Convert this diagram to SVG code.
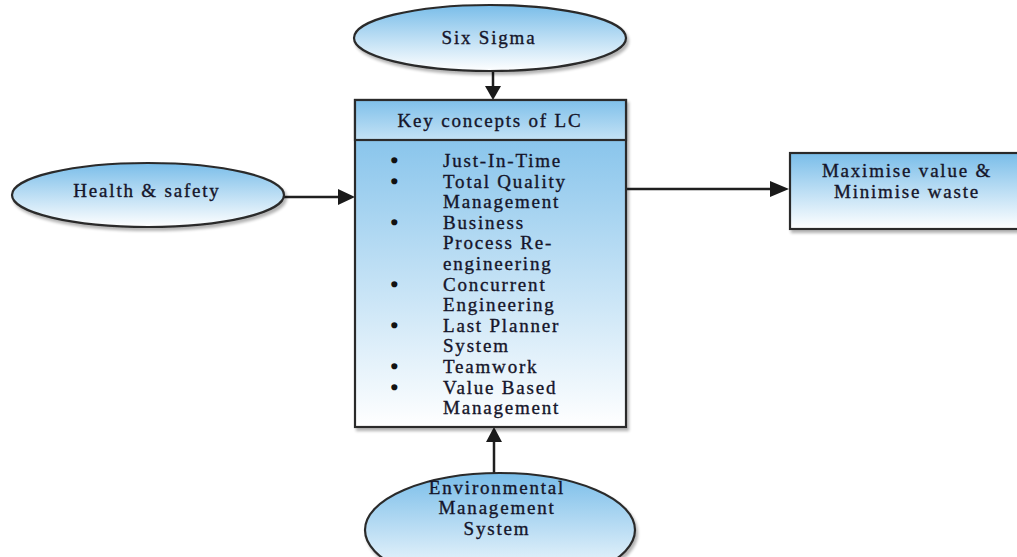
<svg xmlns="http://www.w3.org/2000/svg" width="1017" height="557" viewBox="0 0 1017 557">
<defs>
<linearGradient id="g" x1="0" y1="0" x2="0" y2="1">
<stop offset="0" stop-color="#79bde9"/>
<stop offset="1" stop-color="#ffffff"/>
</linearGradient>
<linearGradient id="gh" x1="0" y1="0" x2="0" y2="1">
<stop offset="0" stop-color="#7fc0ea"/>
<stop offset="1" stop-color="#c4e2f5"/>
</linearGradient>
<filter id="sh" x="-10%" y="-10%" width="125%" height="130%">
<feGaussianBlur in="SourceAlpha" stdDeviation="1.5"/>
<feOffset dx="2" dy="3"/>
<feComponentTransfer><feFuncA type="linear" slope="0.3"/></feComponentTransfer>
<feMerge><feMergeNode/><feMergeNode in="SourceGraphic"/></feMerge>
</filter>
</defs>
<style>
.shape{fill:url(#g);stroke:#2b2b2b;stroke-width:2.2;filter:url(#sh)}
.t{font-family:"Liberation Serif","Times New Roman",serif;font-size:19px;letter-spacing:1.8px;fill:#15152a;stroke:#15152a;stroke-width:0.35}
.c{text-anchor:middle}
.b{font-family:"Liberation Serif","Times New Roman",serif;font-size:19px;fill:#111;stroke:#111;stroke-width:1.6}
.ln{stroke:#1f1f1f;stroke-width:2.5;fill:none}
.hd{fill:#1a1a1a}
</style>
<g id="connectors">
<line class="ln" x1="493" y1="72" x2="493" y2="88"/>
<path class="hd" d="M485,86 L501,86 L493,100 z"/>
<line class="ln" x1="283" y1="197" x2="342" y2="197"/>
<path class="hd" d="M338,189 L355,197 L338,205 z"/>
<line class="ln" x1="626" y1="189" x2="773" y2="189"/>
<path class="hd" d="M770,181 L789,189 L770,197 z"/>
<line class="ln" x1="494" y1="473" x2="494" y2="440"/>
<path class="hd" d="M486,442 L502,442 L494,427 z"/>
</g>
<g id="six-sigma">
<ellipse class="shape" cx="490" cy="38" rx="136" ry="33"/>
<text class="t c" x="489" y="44">Six Sigma</text>
</g>
<g id="health-safety">
<ellipse class="shape" cx="148" cy="195" rx="136" ry="32"/>
<text class="t c" x="147" y="197">Health &amp; safety</text>
</g>
<g id="key-concepts">
<rect class="shape" x="355" y="100" width="271" height="327"/>
<rect x="355" y="100" width="271" height="40" fill="url(#gh)" stroke="#2b2b2b" stroke-width="2.2"/>
<text class="t c" x="490" y="127">Key concepts of LC</text>
<g class="b">
<text x="391" y="167">•</text>
<text x="391" y="188">•</text>
<text x="391" y="229">•</text>
<text x="391" y="291">•</text>
<text x="391" y="332">•</text>
<text x="391" y="373">•</text>
<text x="391" y="394">•</text>
</g>
<g class="t">
<text x="443" y="167">Just-In-Time</text>
<text x="443" y="188">Total Quality</text>
<text x="443" y="208">Management</text>
<text x="443" y="229">Business</text>
<text x="443" y="249">Process Re-</text>
<text x="443" y="270">engineering</text>
<text x="443" y="291">Concurrent</text>
<text x="443" y="311">Engineering</text>
<text x="443" y="332">Last Planner</text>
<text x="443" y="352">System</text>
<text x="443" y="373">Teamwork</text>
<text x="443" y="394">Value Based</text>
<text x="443" y="414">Management</text>
</g>
</g>
<g id="maximise-value">
<rect class="shape" x="790" y="153" width="240" height="76"/>
<text class="t c" x="907" y="177">Maximise value &amp;</text>
<text class="t c" x="907" y="198">Minimise waste</text>
</g>
<g id="environmental">
<ellipse class="shape" cx="500" cy="530" rx="135" ry="57"/>
<text class="t c" x="497" y="494">Environmental</text>
<text class="t c" x="497" y="514">Management</text>
<text class="t c" x="497" y="535">System</text>
</g>
</svg>
